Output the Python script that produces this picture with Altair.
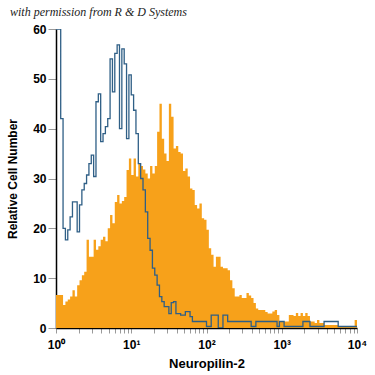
import altair as alt
import pandas as pd

# Histogram channels: 32 bins per decade over 10^0 .. 10^4
BINS_PER_DECADE = 32

orange_counts = [
    6.6, 6.6, 6.6, 4.6, 5.3, 5.7, 6.3, 7.6, 6.3, 8.6,
    9.6, 10.6, 11.3, 17.7, 14.3, 14.3, 17.7, 15.7, 16.4, 17.7,
    18.3, 17.4, 20.0, 22.7, 21.0, 25.3, 26.7, 25.0, 25.5, 26.3,
    31.7, 34.0, 30.7, 34.0, 30.4, 33.0, 32.5, 31.8, 31.0, 30.0,
    32.5, 31.0, 32.5, 39.4, 45.0, 38.0, 35.0, 33.5, 45.0, 42.4,
    36.0, 36.5, 35.3, 35.0, 31.5, 32.0, 30.4, 28.0, 27.7, 24.7,
    24.0, 25.0, 22.0, 21.7, 19.7, 16.0, 14.7, 12.3, 14.3, 14.3,
    12.3, 12.0, 12.0, 11.6, 9.6, 8.0, 6.3, 6.3, 6.6, 6.0,
    6.0, 7.0, 6.5, 6.0, 5.0, 3.9, 3.6, 3.6, 3.6, 3.2,
    2.9, 2.9, 3.3, 3.6, 2.6, 1.3, 1.3, 1.3, 1.3, 2.6,
    2.6, 2.4, 3.0, 2.4, 3.0, 2.4, 3.0, 2.4, 1.3, 1.3,
    1.0, 1.6, 1.0, 1.0, 0.6, 0.6, 0.6, 0.6, 0.6, 0.6,
    0.3, 0.3, 0.3, 0.3, 0.3, 0.3, 0.3, 1.6,
]

blue_counts = [
    60.0, 60.0, 42.0, 20.0, 17.7, 19.7, 22.3, 25.3, 25.3, 19.3,
    24.7, 27.7, 29.0, 30.7, 33.0, 34.7, 30.4, 45.4, 47.0, 37.4,
    39.0, 40.4, 42.0, 54.0, 47.4, 55.1, 56.8, 40.0, 56.0, 53.0,
    38.0, 50.8, 46.8, 43.7, 39.0, 33.0, 30.0, 27.7, 23.3, 18.0,
    15.6, 12.0, 10.6, 8.6, 6.3, 5.3, 4.3, 4.3, 2.9, 5.1,
    5.3, 2.9, 2.9, 2.6, 2.6, 3.3, 3.3, 2.3, 1.3, 1.3,
    1.3, 1.3, 1.3, 1.3, 0.3, 0.3, 2.6, 2.6, 2.6, 0.0,
    0.0, 2.6, 2.6, 1.3, 1.3, 1.3, 1.3, 1.3, 1.3, 1.3,
    1.3, 1.3, 1.3, 0.3, 0.3, 1.3, 1.3, 1.3, 1.3, 1.3,
    1.3, 1.3, 1.3, 1.3, 0.3, 1.3, 1.3, 0.3, 0.3, 0.3,
    0.3, 0.3, 0.3, 0.3, 0.3, 1.3, 1.3, 1.3, 0.3, 0.3,
    0.3, 0.3, 0.3, 0.3, 1.3, 1.3, 1.3, 1.3, 1.3, 1.3,
    0.3, 0.3, 0.3, 0.3, 0.3, 0.3, 0.3, 0.3,
]

x_tick_values = [m * 10 ** d for d in range(4) for m in range(1, 10)] + [10000]
decade_labels = ["10⁰", "10¹", "10²", "10³", "10⁴"]
y_tick_values = [0, 10, 20, 30, 40, 50, 60]
credit_text = "with permission from R & D Systems"

n = len(orange_counts)
edges = [10 ** (i / BINS_PER_DECADE) for i in range(n + 1)]
df = pd.DataFrame({
    "x": edges,
    "orange": orange_counts + [orange_counts[-1]],
    "blue": blue_counts + [blue_counts[-1]],
})

FONT = "Liberation Sans Narrow, Arial Narrow, Liberation Sans, Arial"

label_expr = (
    "datum.value == 1 ? '" + decade_labels[0] + "' : "
    "datum.value == 10 ? '" + decade_labels[1] + "' : "
    "datum.value == 100 ? '" + decade_labels[2] + "' : "
    "datum.value == 1000 ? '" + decade_labels[3] + "' : "
    "datum.value == 10000 ? '" + decade_labels[4] + "' : ''"
)

x_enc = alt.X(
    "x:Q",
    scale=alt.Scale(type="log", domain=[1, 10000], nice=False),
    axis=alt.Axis(
        values=x_tick_values,
        labelExpr=label_expr,
        labelOverlap=False,
        labelFlush=False,
        grid=False,
        tickColor="#9a9a9a",
        tickSize=5,
        domainColor="#000000",
        domainWidth=1.5,
        labelFont=FONT,
        labelFontWeight="bold",
        labelFontSize=12,
        labelColor="#000000",
        labelPadding=6,
        title="Neuropilin-2",
        titleFont=FONT,
        titleFontWeight="bold",
        titleFontSize=13,
        titleColor="#000000",
        titlePadding=7,
    ),
)

y_axis = alt.Axis(
    values=y_tick_values,
    grid=False,
    tickColor="#9a9a9a",
    tickSize=8,
    domainColor="#000000",
    domainWidth=1.5,
    labelFont=FONT,
    labelFontWeight="bold",
    labelFontSize=12,
    labelColor="#000000",
    labelPadding=2,
    title="Relative Cell Number",
    titleFont=FONT,
    titleFontWeight="bold",
    titleFontSize=12,
    titleColor="#000000",
    titlePadding=13,
)

base = alt.Chart(df)

area = base.mark_area(interpolate="step-after", color="#F7A11A", opacity=1, clip=True).encode(
    x=x_enc,
    y=alt.Y("orange:Q", scale=alt.Scale(domain=[0, 60], nice=False), axis=y_axis),
)

line = base.mark_line(interpolate="step-after", color="#2f5f86", strokeWidth=1.3, clip=True).encode(
    x=alt.X("x:Q"),
    y=alt.Y("blue:Q"),
)

credit = alt.Chart(pd.DataFrame({"t": [credit_text]})).mark_text(
    align="left",
    baseline="alphabetic",
    font="Liberation Serif, DejaVu Serif",
    fontStyle="italic",
    fontSize=12,
    color="#222222",
).encode(x=alt.value(-46), y=alt.value(-13), text="t:N")

chart = alt.layer(area, line, credit).properties(
    width=301,
    height=299,
    padding={"left": 56, "top": 29, "right": 18, "bottom": 47},
    autosize=alt.AutoSizeParams(type="none"),
).configure_view(stroke=None)

chart.save("out.html", embed_options={"renderer": "svg", "actions": False})
